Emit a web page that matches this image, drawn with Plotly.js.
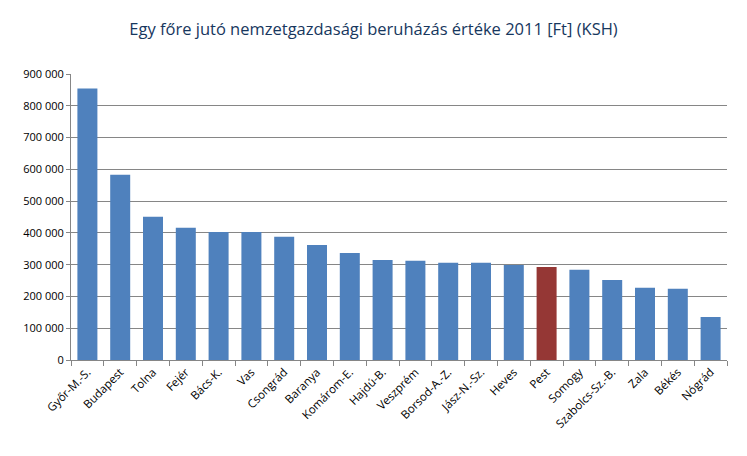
<!DOCTYPE html>
<html>
<head>
<meta charset="utf-8">
<script src="https://cdn.plot.ly/plotly-3.0.1.min.js"></script>
<style>html,body{margin:0;padding:0;background:#fff;}#chart{width:747px;height:456px;}</style>
</head>
<body>
<div id="chart"></div>
<script>
const categories = ["Győr-M.-S.","Budapest","Tolna","Fejér","Bács-K.","Vas","Csongrád","Baranya","Komárom-E.","Hajdú-B.","Veszprém","Borsod-A.-Z.","Jász-N.-Sz.","Heves","Pest","Somogy","Szabolcs-Sz.-B.","Zala","Békés","Nógrád"];
const values = [854000,583000,451000,416000,403000,403000,388000,362000,337000,315000,312000,306000,306000,299000,293000,284000,252000,227000,224000,135000];
const highlight = "Pest";
const yTicks = [0,100000,200000,300000,400000,500000,600000,700000,800000,900000];

const colors = categories.map(c => c === highlight ? "#953735" : "#4F81BD");

const trace = {
  type: "bar",
  x: categories,
  y: values,
  marker: {color: colors, line: {width: 0}},
  hoverinfo: "x+y"
};

const layout = {
  width: 747, height: 456,
  margin: {l: 71, r: 20, t: 74, b: 96},
  paper_bgcolor: "#fff", plot_bgcolor: "#fff",
  separators: ". ",
  font: {family: "Open Sans, Liberation Sans, sans-serif", size: 11, color: "#000"},
  title: {text: "Egy főre jutó nemzetgazdasági beruházás értéke 2011 [Ft] (KSH)",
          font: {family: "Open Sans, Liberation Sans, sans-serif", size: 16.5, color: "#17375E"},
          x: 0.5, xanchor: "center", y: 0.935, yanchor: "middle"},
  bargap: 0.39,
  showlegend: false,
  xaxis: {
    type: "category",
    tickangle: -45,
    ticks: "outside", tickson: "boundaries", ticklen: 5, tickcolor: "#868686",
    showline: true, linecolor: "#868686", linewidth: 1,
    showgrid: false,
    tickfont: {size: 11.5, color: "#000"},
    automargin: false
  },
  yaxis: {
    range: [0, 900000],
    tickvals: yTicks,
    tickformat: ",d",
    ticks: "outside", ticklen: 4, tickcolor: "#868686",
    showline: true, linecolor: "#868686", linewidth: 1,
    showgrid: true, gridcolor: "#868686", gridwidth: 1,
    zeroline: false,
    tickfont: {size: 11, color: "#000"},
    automargin: false
  }
};

Plotly.newPlot("chart", [trace], layout, {displayModeBar: false, staticPlot: true});
</script>
</body>
</html>
